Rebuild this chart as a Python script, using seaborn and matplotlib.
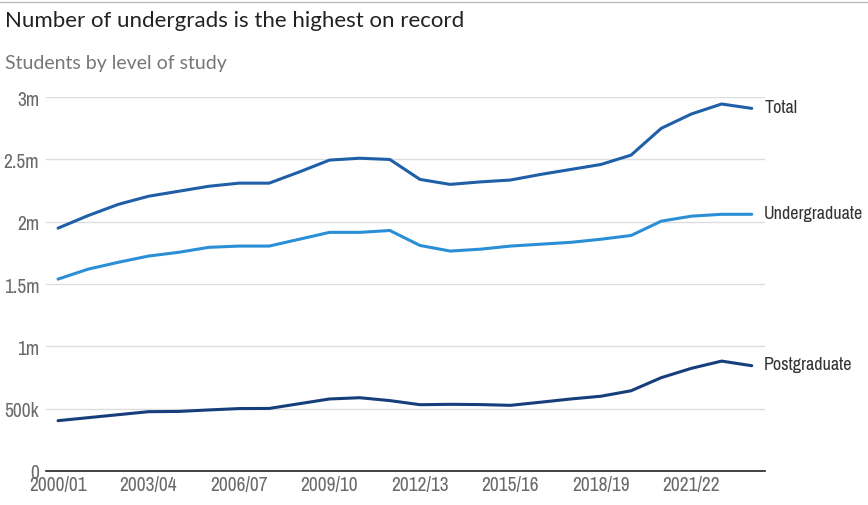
import matplotlib
matplotlib.use("Agg")
import matplotlib.pyplot as plt
from matplotlib import font_manager
import seaborn as sns
import pandas as pd
import numpy as np

years = ["2000/01", "2001/02", "2002/03", "2003/04", "2004/05", "2005/06", "2006/07",
         "2007/08", "2008/09", "2009/10", "2010/11", "2011/12", "2012/13", "2013/14",
         "2014/15", "2015/16", "2016/17", "2017/18", "2018/19", "2019/20", "2020/21",
         "2021/22", "2022/23", "2023/24"]
total = [1.949, 2.05, 2.14, 2.205, 2.245, 2.285, 2.31, 2.31, 2.40, 2.495, 2.51, 2.50,
         2.34, 2.30, 2.32, 2.335, 2.38, 2.42, 2.46, 2.535, 2.75, 2.865, 2.945, 2.91]
undergrad = [1.54, 1.62, 1.675, 1.725, 1.755, 1.795, 1.805, 1.805, 1.86, 1.915, 1.915, 1.93,
             1.81, 1.765, 1.78, 1.805, 1.82, 1.835, 1.86, 1.89, 2.005, 2.045, 2.06, 2.06]
postgrad = [0.404, 0.428, 0.452, 0.476, 0.478, 0.490, 0.501, 0.502, 0.540, 0.578, 0.588, 0.565,
            0.532, 0.535, 0.533, 0.527, 0.552, 0.578, 0.600, 0.644, 0.749, 0.824, 0.882, 0.845]
series_names = ["Total", "Undergraduate", "Postgraduate"]
colors = ["#1f5fa8", "#2a8fd6", "#163e7a"]
y_ticks = [0, 0.5, 1, 1.5, 2, 2.5, 3]
y_tick_labels = ["0", "500k", "1m", "1.5m", "2m", "2.5m", "3m"]
x_tick_every = 3

sns.set_theme(style="white")
plt.rcParams["font.family"] = ["Lato", "DejaVu Sans"]

# pick a condensed font if one is installed
cond_family = None
for f in font_manager.fontManager.ttflist:
    n = f.name.lower()
    if ("narrow" in n or "condensed" in n) and f.weight in (400, "normal", "regular"):
        cond_family = [f.name, "DejaVu Sans"]
        break
if cond_family is None:
    cond_family = ["Roboto", "DejaVu Sans"]

idx = np.arange(len(years))
df = pd.concat([
    pd.DataFrame({"i": idx, "value": vals, "series": name})
    for name, vals in zip(series_names, [total, undergrad, postgrad])
])

fig = plt.figure(figsize=(8.68, 5.06), dpi=100)
ax = fig.add_axes([0.053, 0.0672, 0.828, 0.7388])
sns.lineplot(data=df, x="i", y="value", hue="series", palette=dict(zip(series_names, colors)),
             linewidth=2.2, ax=ax, legend=False)

ax.set_xlim(-0.4, 23.43)
ax.set_ylim(0, 3)
ax.set_yticks(y_ticks)
ax.set_yticklabels(y_tick_labels, color="#6a6a6a", family=cond_family, fontsize=14)
ax.set_xticks(idx[::x_tick_every])
ax.set_xticklabels(years[::x_tick_every], color="#6a6a6a", family=cond_family, fontsize=14)
ax.tick_params(axis="y", length=0, pad=5)
ax.tick_params(axis="x", length=0, pad=3)
ax.grid(axis="y", color="#dddddd", linewidth=1)
ax.set_axisbelow(True)
for s in ["top", "right", "left"]:
    ax.spines[s].set_visible(False)
ax.spines["bottom"].set_color("#222222")
ax.spines["bottom"].set_linewidth(1.2)
ax.set_xlabel("")
ax.set_ylabel("")

for name, vals in zip(series_names, [total, undergrad, postgrad]):
    ax.annotate(name, xy=(idx[-1], vals[-1]), xytext=(9, 1), textcoords="offset points",
                va="center", ha="left", color="#333333", annotation_clip=False,
                family=cond_family, fontsize=13)

fig.text(0.006, 0.958, "Number of undergrads is the highest on record", fontsize=16,
         color="#222222", va="center", ha="left")
fig.text(0.006, 0.874, "Students by level of study", fontsize=14, color="#777777",
         va="center", ha="left")
fig.add_artist(plt.Line2D([0, 1], [0.995, 0.995], color="#bbbbbb", linewidth=1,
                          transform=fig.transFigure))

fig.savefig("out.png", dpi=100)
